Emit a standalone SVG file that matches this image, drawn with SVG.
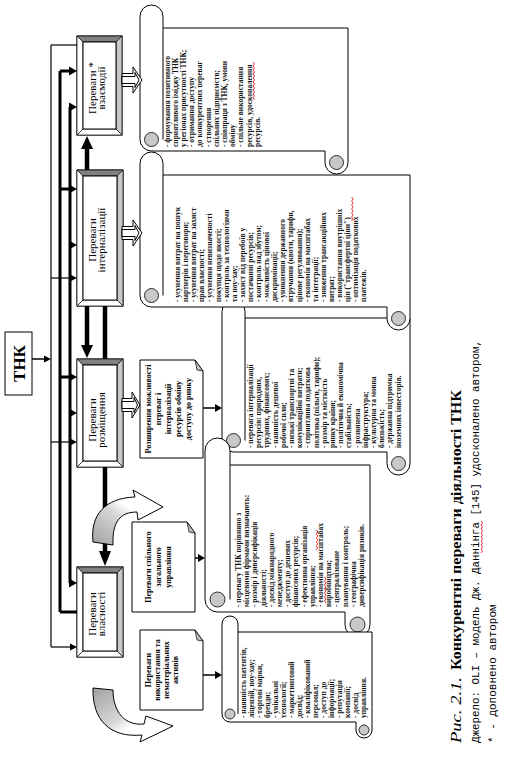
<svg xmlns="http://www.w3.org/2000/svg" width="506" height="759" viewBox="0 0 506 759">
<defs>
<linearGradient id="cgUp" x1="0" y1="1" x2="1" y2="0">
<stop offset="0" stop-color="#a0a0a0"/><stop offset="0.45" stop-color="#d8d8d8"/><stop offset="0.6" stop-color="#ffffff"/>
</linearGradient>
<linearGradient id="cgDown" x1="0" y1="0" x2="1" y2="1">
<stop offset="0" stop-color="#a0a0a0"/><stop offset="0.45" stop-color="#d8d8d8"/><stop offset="0.6" stop-color="#ffffff"/>
</linearGradient>
<style>
.ln{stroke:#000;fill:none}
.ah{fill:#000;stroke:none}
.outer{fill:#fff;stroke:#000;stroke-width:1}
.bt{fill:#808080;stroke:#000;stroke-width:0.7}
.br{fill:#c8c8c8;stroke:#000;stroke-width:0.7}
.bw{fill:#fff;stroke:#000;stroke-width:0.7}
.lbl{font-family:"Liberation Serif",serif;font-size:11px;text-anchor:middle;fill:#000}
.st{font-family:"Liberation Serif",serif;font-size:7.5px;font-weight:bold;fill:#111}
.nt{font-family:"Liberation Serif",serif;font-size:8px;font-weight:bold;text-anchor:middle;fill:#000}
.scroll{fill:#fff;stroke:#000;stroke-width:1}
.curl{fill:#c8c8c8;stroke:#000;stroke-width:0.8}
.note{fill:#fff;stroke:#000;stroke-width:1}
.fold{fill:#c0c0c0;stroke:#000;stroke-width:0.7}
.hollow{fill:#fff;stroke:#000;stroke-width:1}
.cap{font-family:"Liberation Mono",monospace;fill:#000}
.capS{font-family:"Liberation Serif",serif;fill:#000}
.sq{fill:none;stroke:#e00000;stroke-width:0.8}
</style>
</defs>
<rect width="506" height="759" fill="#fff"/>

<g id="node-tnk">
<rect x="5" y="332" width="27" height="63" class="outer" stroke-width="1.2"/>
<text transform="translate(25,363.5) rotate(-90)" font-family="Liberation Serif, serif" font-size="17" font-weight="bold" text-anchor="middle">ТНК</text>
</g>

<g id="node-interaction">
<rect x="77" y="36" width="45" height="99" class="outer"/>
<polygon points="77,36 122,36 116,42 83,42" class="bt"/>
<polygon points="122,36 122,135 116,129 116,42" class="br"/>
<polygon points="77,36 83,42 83,129 77,135" class="bw"/>
<polygon points="77,135 83,129 116,129 122,135" class="bw"/>
<rect x="83" y="42" width="33" height="87" class="outer"/>
<text transform="translate(96,88) rotate(-90)" class="lbl">Переваги *</text>
<text transform="translate(105,88) rotate(-90)" class="lbl">взаємодії</text>
</g>

<g id="node-internalization">
<rect x="77" y="170" width="46" height="136" class="outer"/>
<polygon points="77,170 123,170 117,176 83,176" class="bt"/>
<polygon points="123,170 123,306 117,300 117,176" class="br"/>
<polygon points="77,170 83,176 83,300 77,306" class="bw"/>
<polygon points="77,306 83,300 117,300 123,306" class="bw"/>
<rect x="83" y="176" width="34" height="124" class="outer"/>
<text transform="translate(96,240) rotate(-90)" class="lbl">Переваги</text>
<text transform="translate(105,240) rotate(-90)" class="lbl">інтерналізації</text>
</g>

<g id="node-location">
<rect x="77" y="359" width="46" height="108" class="outer"/>
<polygon points="77,359 123,359 117,365 83,365" class="bt"/>
<polygon points="123,359 123,467 117,461 117,365" class="br"/>
<polygon points="77,359 83,365 83,461 77,467" class="bw"/>
<polygon points="77,467 83,461 117,461 123,467" class="bw"/>
<rect x="83" y="365" width="34" height="96" class="outer"/>
<text transform="translate(96,420) rotate(-90)" class="lbl">Переваги</text>
<text transform="translate(105,420) rotate(-90)" class="lbl">розміщення</text>
</g>

<g id="node-ownership">
<rect x="77" y="567" width="46" height="90" class="outer"/>
<polygon points="77,567 123,567 117,573 83,573" class="bt"/>
<polygon points="123,567 123,657 117,651 117,573" class="br"/>
<polygon points="77,567 83,573 83,651 77,657" class="bw"/>
<polygon points="77,657 83,651 117,651 123,657" class="bw"/>
<rect x="83" y="573" width="34" height="78" class="outer"/>
<text transform="translate(96,614) rotate(-90)" class="lbl">Переваги</text>
<text transform="translate(105,614) rotate(-90)" class="lbl">власності</text>
</g>

<g id="note-location">
<polygon points="140,360 195,360 203,371 203,458 140,458" class="note"/>
<polygon points="195,360 197,370 203,371" class="fold"/>
<text transform="translate(151,409) rotate(-90)" class="nt">Розширення можливості</text>
<text transform="translate(161,409) rotate(-90)" class="nt">переваг і</text>
<text transform="translate(171,409) rotate(-90)" class="nt">інтерналізації</text>
<text transform="translate(181,409) rotate(-90)" class="nt">ресурсів обміну</text>
<text transform="translate(191,409) rotate(-90)" class="nt">доступу до ринку</text>
</g>
<g id="note-management">
<polygon points="132,522 187,522 195,533 195,612 132,612" class="note"/>
<polygon points="187,522 189,532 195,533" class="fold"/>
<text transform="translate(151,567) rotate(-90)" class="nt">Переваги спільного</text>
<text transform="translate(161,567) rotate(-90)" class="nt">загального</text>
<text transform="translate(171,567) rotate(-90)" class="nt">управління</text>
</g>
<g id="note-assets">
<polygon points="140,630 195,630 203,641 203,710 140,710" class="note"/>
<polygon points="195,630 197,640 203,641" class="fold"/>
<text transform="translate(151,670) rotate(-90)" class="nt">Переваги</text>
<text transform="translate(160,670) rotate(-90)" class="nt">використання та</text>
<text transform="translate(169,670) rotate(-90)" class="nt">нематеріальних</text>
<text transform="translate(178,670) rotate(-90)" class="nt">активів</text>
</g>

<g id="scroll-location">
<path d="M222,311.5 A11.5,11.5 0 0 1 245,311.5 L245,318 H410 V463.5 A11.5,11.5 0 0 1 387,463.5 V452 H233.5 A11.5,11.5 0 0 1 222,440.5 Z" class="scroll"/>
<line x1="245" y1="318" x2="245" y2="440.5" class="ln"/>
<circle cx="233.5" cy="440.5" r="7" class="curl"/>
<circle cx="398.5" cy="463.5" r="7" class="curl"/>
<text transform="translate(253,448) rotate(-90)" class="st">- перевага інтерналізації</text>
<text transform="translate(261.2,448) rotate(-90)" class="st">ресурсів: природних,</text>
<text transform="translate(269.4,448) rotate(-90)" class="st">трудових, фінансових;</text>
<text transform="translate(277.6,448) rotate(-90)" class="st">- наявність дешевої</text>
<text transform="translate(285.8,448) rotate(-90)" class="st">робочої сили;</text>
<text transform="translate(294,448) rotate(-90)" class="st">- низькі транспортні та</text>
<text transform="translate(302.2,448) rotate(-90)" class="st">комунікаційні витрати;</text>
<text transform="translate(310.4,448) rotate(-90)" class="st">- сприятлива податкова</text>
<text transform="translate(318.6,448) rotate(-90)" class="st">політика (пільги, тарифи);</text>
<text transform="translate(326.8,448) rotate(-90)" class="st">- розмір та місткість</text>
<text transform="translate(335,448) rotate(-90)" class="st">ринку країни;</text>
<text transform="translate(343.2,448) rotate(-90)" class="st">- політична й економічна</text>
<text transform="translate(351.4,448) rotate(-90)" class="st">стабільність;</text>
<text transform="translate(359.6,448) rotate(-90)" class="st">- розвинена</text>
<text transform="translate(367.8,448) rotate(-90)" class="st">інфраструктура;</text>
<text transform="translate(376,448) rotate(-90)" class="st">- культурна та мовна</text>
<text transform="translate(384.2,448) rotate(-90)" class="st">близькість;</text>
<text transform="translate(392.4,448) rotate(-90)" class="st">- державна підтримка</text>
<text transform="translate(400.6,448) rotate(-90)" class="st">іноземних інвесторів.</text>
</g>

<g id="scroll-internalization">
<path d="M140,163.5 A11.5,11.5 0 0 1 163,163.5 L163,175 H410 V318.5 A11.5,11.5 0 0 1 387,318.5 V307 H151.5 A11.5,11.5 0 0 1 140,295.5 Z" class="scroll"/>
<line x1="163" y1="175" x2="163" y2="295.5" class="ln"/>
<circle cx="151.5" cy="295.5" r="7" class="curl"/>
<circle cx="398.5" cy="318.5" r="7" class="curl"/>
<text transform="translate(180,302) rotate(-90)" class="st">- усунення витрат на пошук</text>
<text transform="translate(188.1,302) rotate(-90)" class="st">партнерів і переговори;</text>
<text transform="translate(196.2,302) rotate(-90)" class="st">- усунення витрат на захист</text>
<text transform="translate(204.3,302) rotate(-90)" class="st">прав власності;</text>
<text transform="translate(212.4,302) rotate(-90)" class="st">- усунення невизначеності</text>
<text transform="translate(220.5,302) rotate(-90)" class="st">покупця щодо якості;</text>
<text transform="translate(228.6,302) rotate(-90)" class="st">- контроль за технологіями</text>
<text transform="translate(236.7,302) rotate(-90)" class="st">та ноу-хау;</text>
<text transform="translate(244.8,302) rotate(-90)" class="st">- захист від перебоїв у</text>
<text transform="translate(252.9,302) rotate(-90)" class="st">постачанні ресурсів;</text>
<text transform="translate(261,302) rotate(-90)" class="st">- контроль над збутом;</text>
<text transform="translate(269.1,302) rotate(-90)" class="st">- можливість цінової</text>
<text transform="translate(277.2,302) rotate(-90)" class="st">дискримінації;</text>
<text transform="translate(285.3,302) rotate(-90)" class="st">- уникнення державного</text>
<text transform="translate(293.4,302) rotate(-90)" class="st">втручання (квоти, тарифи,</text>
<text transform="translate(301.5,302) rotate(-90)" class="st">цінове регулювання);</text>
<text transform="translate(309.6,302) rotate(-90)" class="st">- економія на масштабах</text>
<text transform="translate(317.7,302) rotate(-90)" class="st">та інтеграції;</text>
<text transform="translate(325.8,302) rotate(-90)" class="st">- зниження трансакційних</text>
<text transform="translate(333.9,302) rotate(-90)" class="st">витрат;</text>
<text transform="translate(342,302) rotate(-90)" class="st">- використання внутрішніх</text>
<text transform="translate(350.1,302) rotate(-90)" class="st">цін ("трансфертні ціни")</text>
<text transform="translate(358.2,302) rotate(-90)" class="st">- оптимізація податкових</text>
<text transform="translate(366.3,302) rotate(-90)" class="st">платежів.</text>
<polyline class="sq" points="351.6,197 353.1,199 351.6,201 353.1,203 351.6,205 353.1,207 351.6,209 353.1,211 351.6,213 353.1,215 351.6,217 353.1,219 351.6,221"/>
</g>

<g id="scroll-interaction">
<path d="M140,16.5 A11.5,11.5 0 0 1 163,16.5 L163,28 H348 V162.5 A11.5,11.5 0 0 1 325,162.5 V151 H151.5 A11.5,11.5 0 0 1 140,139.5 Z" class="scroll"/>
<line x1="163" y1="28" x2="163" y2="139.5" class="ln"/>
<circle cx="151.5" cy="139.5" r="7" class="curl"/>
<circle cx="336.5" cy="162.5" r="7" class="curl"/>
<text transform="translate(169.5,147) rotate(-90)" class="st">- формування позитивного</text>
<text transform="translate(177.7,147) rotate(-90)" class="st">сприятливого іміджу ТНК</text>
<text transform="translate(185.9,147) rotate(-90)" class="st">у регіонах присутності ТНК;</text>
<text transform="translate(194.1,147) rotate(-90)" class="st">- отримання доступу</text>
<text transform="translate(202.3,147) rotate(-90)" class="st">до конкурентних переваг</text>
<text transform="translate(210.5,147) rotate(-90)" class="st">- створення</text>
<text transform="translate(218.7,147) rotate(-90)" class="st">спільних підприємств;</text>
<text transform="translate(226.9,147) rotate(-90)" class="st">- співпраця з ТНК, умови</text>
<text transform="translate(235.1,147) rotate(-90)" class="st">обміну</text>
<text transform="translate(243.3,147) rotate(-90)" class="st">- спільне використання</text>
<text transform="translate(251.5,147) rotate(-90)" class="st">ресурсів, удосконалення</text>
<text transform="translate(259.7,147) rotate(-90)" class="st">ресурсів.</text>
<polyline class="sq" points="253,62 254.5,64 253,66 254.5,68 253,70 254.5,72 253,74 254.5,76 253,78 254.5,80 253,82 254.5,84 253,86 254.5,88 253,90 254.5,92 253,94 254.5,96 253,98 254.5,100"/>
</g>

<g id="scroll-management">
<path d="M205,450.5 A12.5,12.5 0 0 1 230,450.5 L230,465 H370 V624.5 A12.5,12.5 0 0 1 345,624.5 V612 H217.5 A12.5,12.5 0 0 1 205,599.5 Z" class="scroll"/>
<line x1="230" y1="465" x2="230" y2="599.5" class="ln"/>
<circle cx="217.5" cy="599.5" r="7.5" class="curl"/>
<circle cx="357.5" cy="624.5" r="7.5" class="curl"/>
<text transform="translate(241,607) rotate(-90)" class="st">- перевагу ТНК порівняно з</text>
<text transform="translate(249.2,607) rotate(-90)" class="st">місцевими фірмами визначають:</text>
<text transform="translate(257.4,607) rotate(-90)" class="st">- розмір і диверсифікація</text>
<text transform="translate(265.6,607) rotate(-90)" class="st">діяльності;</text>
<text transform="translate(273.8,607) rotate(-90)" class="st">- досвід міжнародного</text>
<text transform="translate(282,607) rotate(-90)" class="st">менеджменту;</text>
<text transform="translate(290.2,607) rotate(-90)" class="st">- доступ до дешевих</text>
<text transform="translate(298.4,607) rotate(-90)" class="st">фінансових ресурсів;</text>
<text transform="translate(306.6,607) rotate(-90)" class="st">- ефективна організація</text>
<text transform="translate(314.8,607) rotate(-90)" class="st">управління;</text>
<text transform="translate(323,607) rotate(-90)" class="st">- економія на масштабах</text>
<text transform="translate(331.2,607) rotate(-90)" class="st">виробництва;</text>
<text transform="translate(339.4,607) rotate(-90)" class="st">- централізоване</text>
<text transform="translate(347.6,607) rotate(-90)" class="st">планування і контроль;</text>
<text transform="translate(355.8,607) rotate(-90)" class="st">- географічна</text>
<text transform="translate(364,607) rotate(-90)" class="st">диверсифікація ризиків.</text>
<polyline class="sq" points="316.3,530 317.8,532 316.3,534 317.8,536 316.3,538 317.8,540 316.3,542 317.8,544 316.3,546 317.8,548 316.3,550"/>
<polyline class="sq" points="324.5,577 326,579 324.5,581 326,583 324.5,585 326,587 324.5,589 326,591 324.5,593 326,595 324.5,597 326,599 324.5,601 326,603"/>
</g>

<g id="scroll-assets">
<path d="M222,624 A8,8 0 0 1 238,624 L238,632 H372 V730 A8,8 0 0 1 356,730 V722 H230 A8,8 0 0 1 222,714 Z" class="scroll"/>
<line x1="238" y1="632" x2="238" y2="714" class="ln"/>
<circle cx="230" cy="714" r="5" class="curl"/>
<circle cx="364" cy="730" r="5" class="curl"/>
<text transform="translate(246,718) rotate(-90)" class="st">- наявність патентів,</text>
<text transform="translate(254,718) rotate(-90)" class="st">ліцензій, ноу-хау;</text>
<text transform="translate(262,718) rotate(-90)" class="st">- торгові марки,</text>
<text transform="translate(270,718) rotate(-90)" class="st">бренди;</text>
<text transform="translate(278,718) rotate(-90)" class="st">- унікальні</text>
<text transform="translate(286,718) rotate(-90)" class="st">технології;</text>
<text transform="translate(294,718) rotate(-90)" class="st">- маркетинговий</text>
<text transform="translate(302,718) rotate(-90)" class="st">досвід;</text>
<text transform="translate(310,718) rotate(-90)" class="st">- кваліфікований</text>
<text transform="translate(318,718) rotate(-90)" class="st">персонал;</text>
<text transform="translate(326,718) rotate(-90)" class="st">- доступ до</text>
<text transform="translate(334,718) rotate(-90)" class="st">інформації;</text>
<text transform="translate(342,718) rotate(-90)" class="st">- репутація</text>
<text transform="translate(350,718) rotate(-90)" class="st">компанії;</text>
<text transform="translate(358,718) rotate(-90)" class="st">- досвід</text>
<text transform="translate(366,718) rotate(-90)" class="st">управління.</text>
</g>

<g id="connectors">
<line x1="32" y1="359" x2="45" y2="359" class="ln" stroke-width="1.5"/>
<polygon points="51,359 44,355.5 44,362.5" class="ah"/>
<line x1="51" y1="45" x2="51" y2="647" class="ln" stroke-width="1.2"/>
<line x1="60" y1="71" x2="60" y2="612" class="ln" stroke-width="3"/>
<line x1="70" y1="107" x2="70" y2="583" class="ln" stroke-width="3"/>
<line x1="51" y1="45" x2="77" y2="45" class="ln" stroke-width="1.2"/>
<line x1="60" y1="71" x2="71" y2="71" class="ln" stroke-width="3"/>
<polygon points="77,71 69,66.5 69,75.5" class="ah"/>
<polygon points="77,107 69,102.5 69,111.5" class="ah"/>
<line x1="60" y1="189" x2="71" y2="189" class="ln" stroke-width="3"/>
<polygon points="77,189 69,184.5 69,193.5" class="ah"/>
<polygon points="77,245 69,240.5 69,249.5" class="ah"/>
<line x1="51" y1="278" x2="72" y2="278" class="ln" stroke-width="1.2"/>
<polygon points="77,278 70,274.5 70,281.5" class="ah"/>
<line x1="60" y1="377" x2="71" y2="377" class="ln" stroke-width="3"/>
<polygon points="77,377 69,372.5 69,381.5" class="ah"/>
<polygon points="77,413 69,408.5 69,417.5" class="ah"/>
<line x1="51" y1="442" x2="72" y2="442" class="ln" stroke-width="1.2"/>
<polygon points="77,442 70,438.5 70,445.5" class="ah"/>
<polygon points="77,583 69,578.5 69,587.5" class="ah"/>
<line x1="60" y1="612" x2="77" y2="612" class="ln" stroke-width="3"/>
<line x1="51" y1="647" x2="72" y2="647" class="ln" stroke-width="1.2"/>
<polygon points="77,647 70,643.5 70,650.5" class="ah"/>
<line x1="87" y1="170" x2="87" y2="148" class="ln" stroke-width="4.5"/>
<polygon points="87,136 81,149 93,149" class="ah"/>
<line x1="87" y1="306" x2="87" y2="346" class="ln" stroke-width="4.5"/>
<polygon points="87,358 81,345 93,345" class="ah"/>
<line x1="105" y1="306" x2="105" y2="359" class="ln" stroke-width="4.5"/>
<line x1="105" y1="467" x2="105" y2="552" class="ln" stroke-width="4.5"/>
<polygon points="105,566 99,551 111,551" class="ah"/>
<polygon points="122,73.5 133,73.5 133,67 142,80 133,93 133,86.5 122,86.5" class="hollow"/>
<polygon points="122,76.5 135,76.5 135,72.5 139,80 135,87.5 135,83.5 122,83.5" class="hollow" stroke-width="0.8"/>
<polygon points="122,226.5 133,226.5 133,220 142,233 133,246 133,239.5 122,239.5" class="hollow"/>
<polygon points="122,229.5 135,229.5 135,225.5 139,233 135,240.5 135,236.5 122,236.5" class="hollow" stroke-width="0.8"/>
<polygon points="122,398.5 132,398.5 132,392 140,405 132,418 132,411.5 122,411.5" class="hollow"/>
<polygon points="122,401.5 134,401.5 134,397.5 137.5,405 134,412.5 134,408.5 122,408.5" class="hollow" stroke-width="0.8"/>
<line x1="203" y1="408" x2="216" y2="408" class="ln" stroke-width="1.5"/>
<polygon points="222,408 215,404 215,412" class="ah"/>
<line x1="195" y1="558" x2="199" y2="558" class="ln" stroke-width="1.5"/>
<polygon points="205,558 198,554 198,562" class="ah"/>
<line x1="203" y1="675" x2="216" y2="675" class="ln" stroke-width="1.5"/>
<polygon points="222,675 215,671 215,679" class="ah"/>
<path d="M93,542 C90,515 105,498 135,497 L133,490 L163,507 L138,520 L137,512 C120,512 112,522 113,545 Z" fill="url(#cgUp)" stroke="#000" stroke-width="1"/>
<path d="M93,688 C92,720 110,738 142,735 L140,742 L173,726 L146,716 L144,724 C125,726 113,712 113,690 Z" fill="url(#cgDown)" stroke="#000" stroke-width="1"/>
</g>

<g id="caption">
<text transform="translate(461,743) rotate(-90)" class="capS" font-size="14" font-style="italic" textLength="66" lengthAdjust="spacingAndGlyphs">Рис. 2.1.</text>
<text transform="translate(461,670) rotate(-90)" class="capS" font-size="14.5" font-weight="bold" textLength="280" lengthAdjust="spacingAndGlyphs">Конкурентні переваги діяльності ТНК</text>
<text transform="translate(479,743) rotate(-90)" class="cap" font-size="11" textLength="403" lengthAdjust="spacingAndGlyphs">Джерело: OLI – модель Дж. Даннінга [145] удосконалено автором,</text>
<polyline class="sq" points="481,521 482.5,523 481,525 482.5,527 481,529 482.5,531 481,533 482.5,535 481,537 482.5,539 481,541 482.5,543 481,545 482.5,547 481,549 482.5,551 481,553"/>
<text transform="translate(496,743) rotate(-90)" class="cap" font-size="11">* - доповнено автором</text>
</g>
</svg>
